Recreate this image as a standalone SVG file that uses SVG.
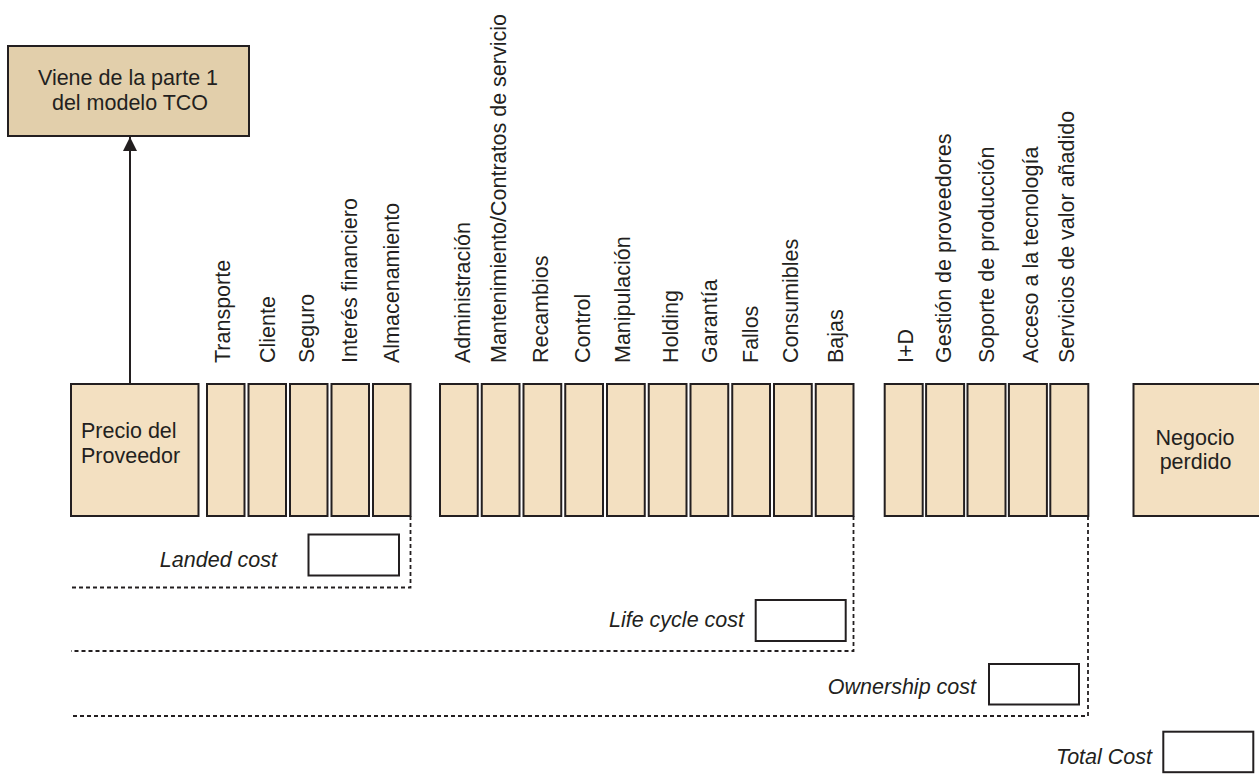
<svg xmlns="http://www.w3.org/2000/svg" width="1259" height="780" viewBox="0 0 1259 780">
<style>
  .t{font-family:"Liberation Sans",Arial,sans-serif;font-size:21.5px;fill:#231f20}
  .it{font-style:italic}
  .bar{fill:#f3e0c1;stroke:#231f20;stroke-width:2}
  .top{fill:#e2cfab;stroke:#231f20;stroke-width:2}
  .val{fill:#ffffff;stroke:#231f20;stroke-width:2}
  .dot{fill:none;stroke:#231f20;stroke-width:1.8;stroke-dasharray:4 3}
</style>
<defs>
  <marker id="ah" markerWidth="14" markerHeight="14" refX="14" refY="7" orient="auto" markerUnits="userSpaceOnUse" viewBox="0 0 14 14">
    <path d="M0,0 L14,7 L0,14 Z" fill="#231f20"/>
  </marker>
</defs>
<rect width="1259" height="780" fill="#ffffff"/>

<g id="viene">
  <rect class="top" x="8" y="46" width="241" height="90"/>
  <text class="t" x="128" y="85" text-anchor="middle">Viene de la parte 1</text>
  <text class="t" x="130" y="110" text-anchor="middle">del modelo TCO</text>
</g>

<g id="precio">
  <rect class="bar" x="71" y="384" width="127.5" height="132"/>
  <text class="t" x="81" y="438">Precio del</text>
  <text class="t" x="81" y="463">Proveedor</text>
</g>

<g id="landed-items">
  <rect class="bar" x="207" y="384" width="37.5" height="132"/>
  <rect class="bar" x="248.5" y="384" width="37.5" height="132"/>
  <rect class="bar" x="290" y="384" width="37.5" height="132"/>
  <rect class="bar" x="331.5" y="384" width="37.5" height="132"/>
  <rect class="bar" x="373" y="384" width="37.5" height="132"/>
  <text class="t" transform="translate(230,363) rotate(-90)">Transporte</text>
  <text class="t" transform="translate(275,363) rotate(-90)">Cliente</text>
  <text class="t" transform="translate(313.5,363) rotate(-90)">Seguro</text>
  <text class="t" transform="translate(356.5,363) rotate(-90)">Interés financiero</text>
  <text class="t" transform="translate(398.5,363) rotate(-90)">Almacenamiento</text>
</g>

<g id="lifecycle-items">
  <rect class="bar" x="440" y="384" width="37.75" height="132"/>
  <rect class="bar" x="481.75" y="384" width="37.75" height="132"/>
  <rect class="bar" x="523.5" y="384" width="37.75" height="132"/>
  <rect class="bar" x="565.25" y="384" width="37.75" height="132"/>
  <rect class="bar" x="607" y="384" width="37.75" height="132"/>
  <rect class="bar" x="648.75" y="384" width="37.75" height="132"/>
  <rect class="bar" x="690.5" y="384" width="37.75" height="132"/>
  <rect class="bar" x="732.25" y="384" width="37.75" height="132"/>
  <rect class="bar" x="774" y="384" width="37.75" height="132"/>
  <rect class="bar" x="815.75" y="384" width="37.75" height="132"/>
  <text class="t" transform="translate(470,363) rotate(-90)">Administración</text>
  <text class="t" transform="translate(505.7,363) rotate(-90)">Mantenimiento/Contratos de servicio</text>
  <text class="t" transform="translate(548.3,363) rotate(-90)">Recambios</text>
  <text class="t" transform="translate(590,363) rotate(-90)">Control</text>
  <text class="t" transform="translate(630,363) rotate(-90)">Manipulación</text>
  <text class="t" transform="translate(678.3,363) rotate(-90)">Holding</text>
  <text class="t" transform="translate(716.7,363) rotate(-90)">Garantía</text>
  <text class="t" transform="translate(758.3,363) rotate(-90)">Fallos</text>
  <text class="t" transform="translate(798.3,363) rotate(-90)">Consumibles</text>
  <text class="t" transform="translate(843.3,363) rotate(-90)">Bajas</text>
</g>

<g id="ownership-items">
  <rect class="bar" x="884.7" y="384" width="38" height="132"/>
  <rect class="bar" x="926.1" y="384" width="38" height="132"/>
  <rect class="bar" x="967.5" y="384" width="38" height="132"/>
  <rect class="bar" x="1008.9" y="384" width="38" height="132"/>
  <rect class="bar" x="1050.3" y="384" width="38" height="132"/>
  <text class="t" transform="translate(913,363) rotate(-90)">I+D</text>
  <text class="t" transform="translate(951,363) rotate(-90)">Gestión de proveedores</text>
  <text class="t" transform="translate(994,363) rotate(-90)">Soporte de producción</text>
  <text class="t" transform="translate(1038,363) rotate(-90)">Acceso a la tecnología</text>
  <text class="t" transform="translate(1074,363) rotate(-90)">Servicios de valor añadido</text>
</g>

<g id="negocio">
  <rect class="bar" x="1133.5" y="384" width="140" height="132"/>
  <text class="t" x="1195" y="444.5" text-anchor="middle">Negocio</text>
  <text class="t" x="1195.5" y="468.5" text-anchor="middle">perdido</text>
</g>

<g id="landed-cost">
  <text class="t it" x="277" y="567" text-anchor="end">Landed cost</text>
  <rect class="val" x="308.5" y="534.5" width="90.5" height="41"/>
</g>
<g id="lifecycle-cost">
  <text class="t it" x="744" y="627" text-anchor="end">Life cycle cost</text>
  <rect class="val" x="755.7" y="600" width="90" height="41"/>
</g>
<g id="ownership-cost">
  <text class="t it" x="976" y="693.5" text-anchor="end">Ownership cost</text>
  <rect class="val" x="989" y="664" width="90" height="40.5"/>
</g>
<g id="total-cost">
  <text class="t it" x="1152" y="764" text-anchor="end">Total Cost</text>
  <rect class="val" x="1163.3" y="731.7" width="90" height="40.5"/>
</g>

<g id="connectors">
  <line x1="130" y1="384" x2="130" y2="137" stroke="#231f20" stroke-width="2" marker-end="url(#ah)"/>
  <polyline class="dot" points="410.5,516 410.5,587.5 71,587.5"/>
  <polyline class="dot" points="853.5,516 853.5,651 71,651"/>
  <polyline class="dot" points="1088,516 1088,716 71,716"/>
</g>
</svg>
